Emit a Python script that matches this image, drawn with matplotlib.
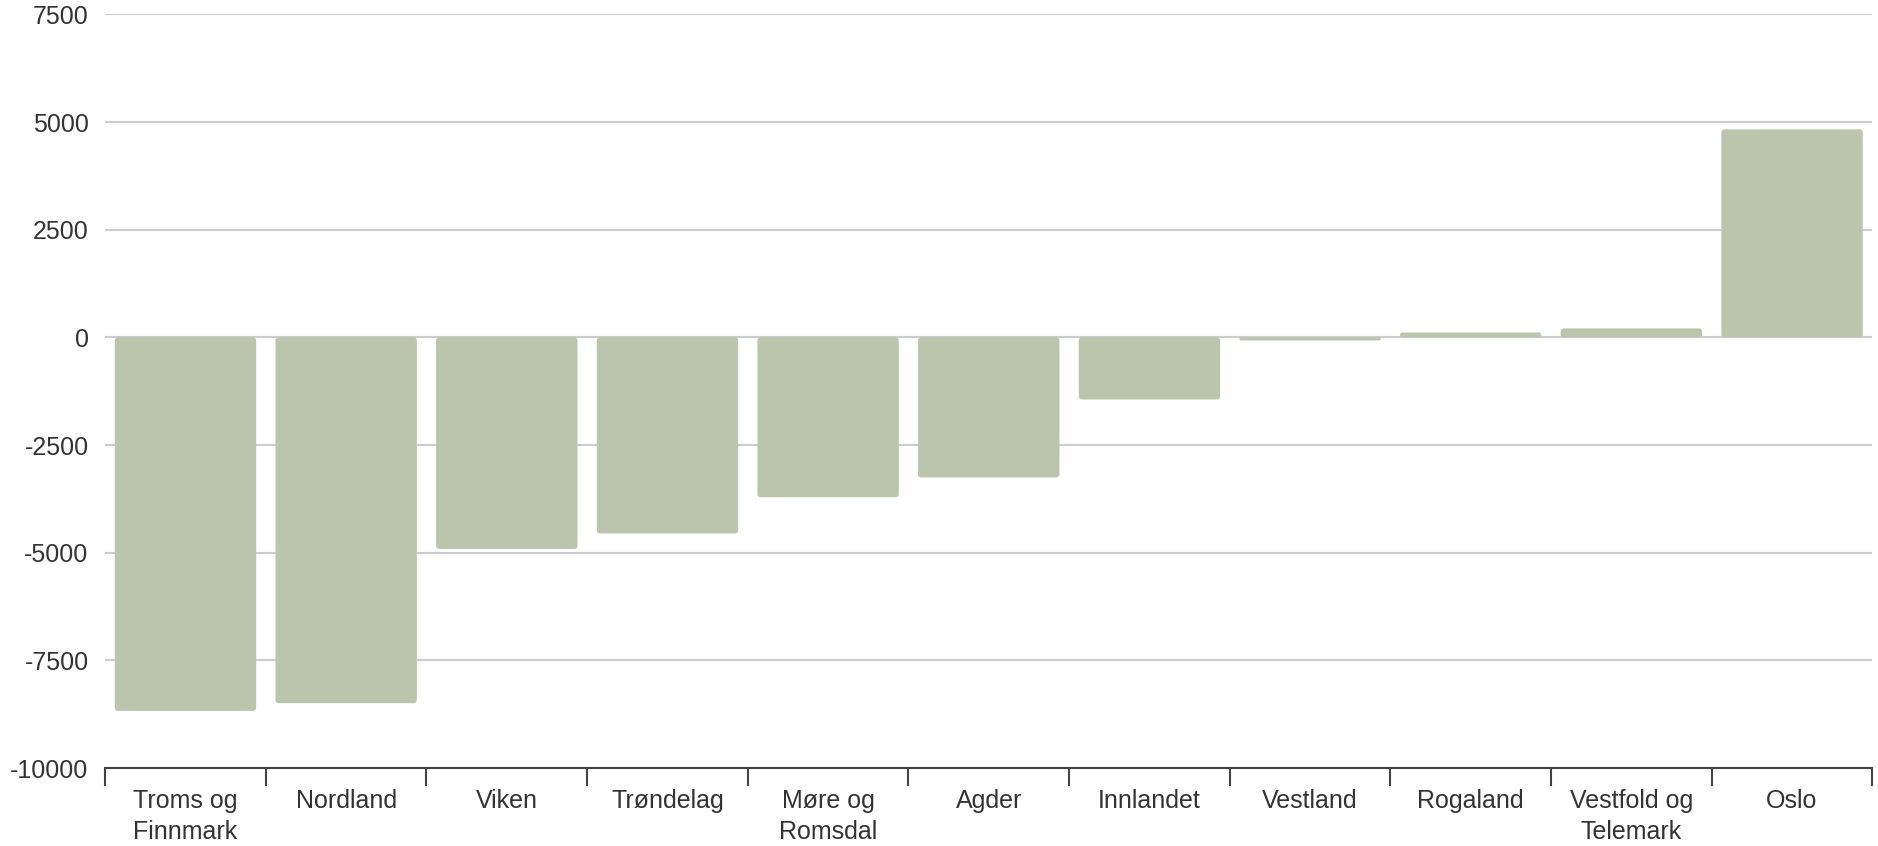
import matplotlib
matplotlib.use('Agg')
import matplotlib.pyplot as plt
from matplotlib.patches import FancyBboxPatch
import numpy as np

regions = ["Troms og\nFinnmark", "Nordland", "Viken", "Trøndelag", "Møre og\nRomsdal",
           "Agder", "Innlandet", "Vestland", "Rogaland", "Vestfold og\nTelemark", "Oslo"]
values = [-8670, -8490, -4910, -4550, -3710, -3250, -1440, -70, 115, 210, 4830]
yticks = [-10000, -7500, -5000, -2500, 0, 2500, 5000, 7500]

bar_color = '#bbc5ac'
grid_color = '#cccccc'
text_color = '#333333'

plt.rcParams['font.family'] = ['Liberation Sans', 'DejaVu Sans']

fig = plt.figure(figsize=(18.78, 8.46), dpi=100)
ax = fig.add_axes([0.056, 0.092, 0.941, 0.891])

x = np.arange(len(regions))
bars = ax.bar(x, values, width=0.88, color=bar_color, zorder=3)

ax.set_xlim(-0.5, len(regions) - 0.5)
ax.set_ylim(-10000, 7500)

# swap plain bars for slightly rounded ones
fig.canvas.draw()
px_x = ax.transData.transform((1, 0))[0] - ax.transData.transform((0, 0))[0]
px_y = ax.transData.transform((0, 0))[1] - ax.transData.transform((0, 1))[1]
aspect = abs(px_x / px_y)
for b in bars:
    x0, y0, w, h = b.get_x(), b.get_y(), b.get_width(), b.get_height()
    if h < 0:
        y0, h = y0 + h, -h
    r = min(3.0 / px_x, w / 2, h / aspect / 2)
    p = FancyBboxPatch((x0, y0), w, h, boxstyle=f"round,pad=0,rounding_size={r}",
                       mutation_aspect=aspect, facecolor=bar_color, edgecolor='none', zorder=3)
    b.remove()
    ax.add_patch(p)

ax.set_yticks(yticks)
ax.set_yticklabels([str(v) for v in yticks])
ax.yaxis.grid(True, color=grid_color, linewidth=1.5, zorder=0)
ax.tick_params(axis='y', length=0, pad=12, labelsize=18, labelcolor=text_color)

ax.set_xticks(x)
ax.set_xticklabels(regions, linespacing=1.35)
ax.set_xticks(np.arange(len(regions) + 1) - 0.5, minor=True)
ax.tick_params(axis='x', which='major', length=0, pad=15, labelsize=18, labelcolor=text_color)
ax.tick_params(axis='x', which='minor', length=13, width=1.5, color='#444444', direction='out')

for side in ['top', 'right', 'left']:
    ax.spines[side].set_visible(False)
ax.spines['bottom'].set_color('#444444')
ax.spines['bottom'].set_linewidth(1.5)
ax.spines['bottom'].set_zorder(4)

fig.savefig('out.png', dpi=100)
